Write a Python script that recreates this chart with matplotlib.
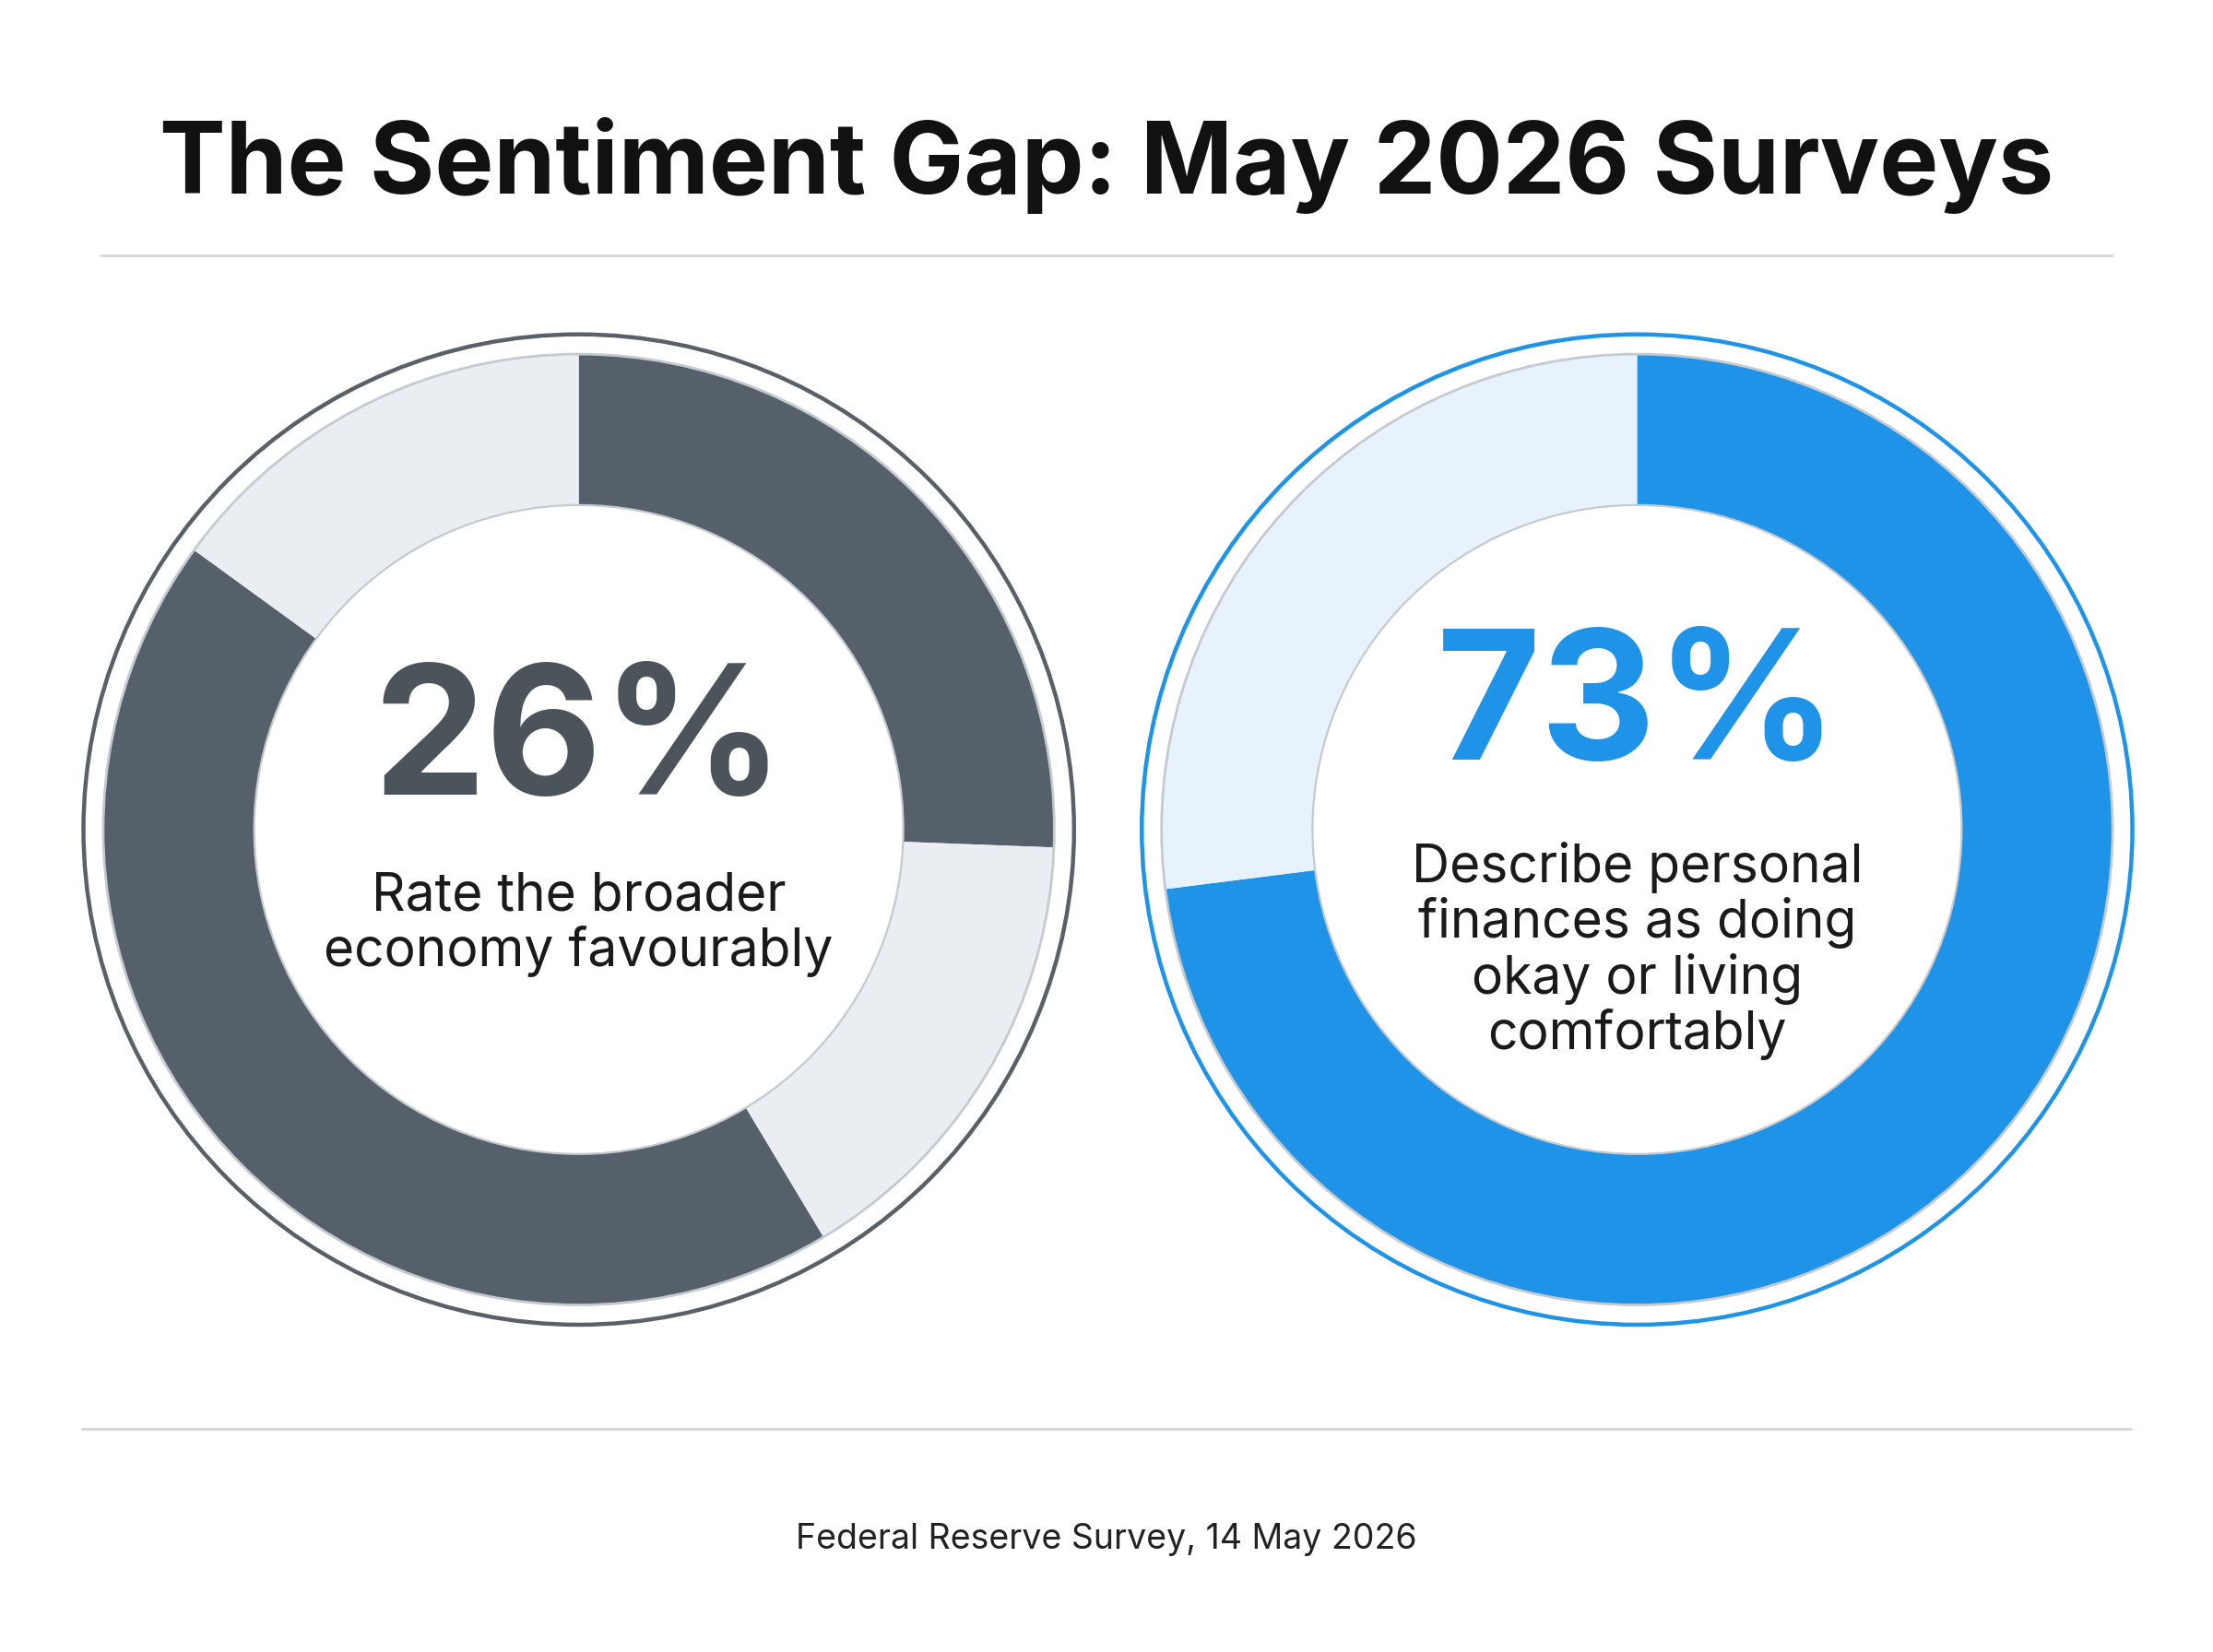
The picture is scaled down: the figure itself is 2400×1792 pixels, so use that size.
import matplotlib
matplotlib.use("Agg")
import matplotlib.pyplot as plt
from matplotlib.patches import Circle

title = "The Sentiment Gap: May 2026 Surveys"
left_pct = "26%"
left_label = "Rate the broader\neconomy favourably"
left_segments = [25.6, 15.8, 43.6, 15.0]   # dark, light, dark, light
right_pct = "73%"
right_label = "Describe personal\nfinances as doing\nokay or living\ncomfortably"
right_segments = [73, 27]
source = "Federal Reserve Survey, 14 May 2026"

W, H = 1568, 1171
fig = plt.figure(figsize=(12, 8.96), dpi=200)
ax = fig.add_axes([0, 0, 1, 1])
ax.set_xlim(0, W); ax.set_ylim(H, 0); ax.axis("off")
ax.set_aspect("equal")
font = "Inter"

ax.text(W/2, 117, title, ha="center", va="center", fontsize=38.7, fontweight="bold", family=font, color="#111111")
ax.plot([72, 1496], [181, 181], color="#d5d8dc", lw=1)
ax.plot([58, 1510], [1013, 1013], color="#d5d8dc", lw=1)
ax.text(W/2, 1091, source, ha="center", va="center", fontsize=13.5, family=font, color="#222222")

dark, lgray = "#56606a", "#eaeef2"
blue, lblue = "#1e93e8", "#e7f2fc"

def donut(cx, cy, vals, cols, ringcol, pct, pcol, label, py, ly):
    ax.add_patch(Circle((cx, cy), 351, fill=False, ec=ringcol, lw=1.6))
    # y axis is inverted: start at -90 and go counterclockwise in data = clockwise from top on screen
    ax.pie(vals, colors=cols, startangle=-90, counterclock=True, center=(cx, cy), radius=337,
           wedgeprops=dict(width=107, ec="none"))
    ax.add_patch(Circle((cx, cy), 337, fill=False, ec="#c4cad0", lw=1))
    ax.add_patch(Circle((cx, cy), 230, fill=False, ec="#c4cad0", lw=0.8))
    ax.text(cx, py, pct, ha="center", va="center", fontsize=70, fontweight="bold", family=font, color=pcol)
    ax.text(cx, ly, label, ha="center", va="center", fontsize=20.5, family=font, color="#1a1a1a", linespacing=1.1)

donut(410, 588, left_segments, [dark, lgray, dark, lgray], "#5a6068", left_pct, "#4b535b", left_label, 530, 655)
donut(1160, 588, right_segments, [blue, lblue], blue, right_pct, blue, right_label, 505, 674)
ax.set_xlim(0, W); ax.set_ylim(H, 0)
fig.savefig("out.png", dpi=200, facecolor="white")
